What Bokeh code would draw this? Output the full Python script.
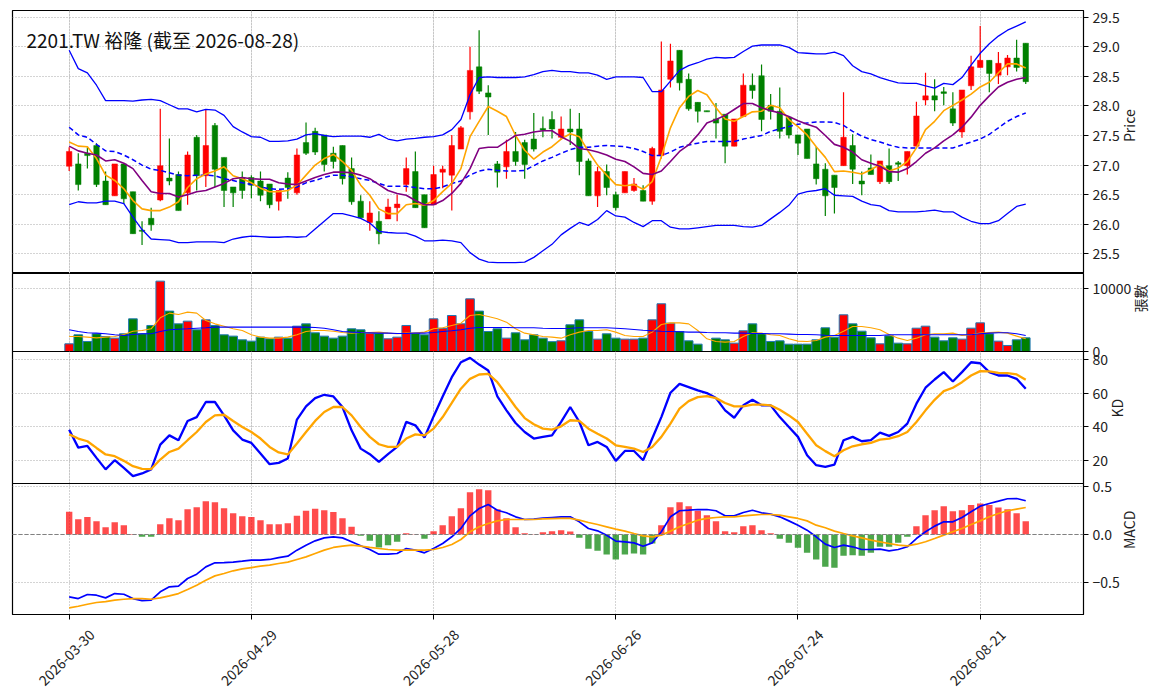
import math
import pandas as pd
from bokeh.plotting import figure
from bokeh.layouts import column
from bokeh.models import ColumnDataSource, Range1d, FixedTicker, Grid, Label, Span
from bokeh.core.properties import value
from bokeh.embed import file_html
from bokeh.resources import INLINE

# ---------------- data ----------------
holidays = ["2026-04-03", "2026-04-06", "2026-05-01", "2026-06-19"]
dates = [d.strftime("%Y-%m-%d") for d in pd.bdate_range("2026-03-30", "2026-08-28")
         if d.strftime("%Y-%m-%d") not in holidays]

open_ = [26.98, 27.02, 27.20, 27.33, 26.73, 26.48, 27.02, 26.55, 25.90, 26.10,
         26.41, 26.78, 26.84, 26.53, 27.47, 26.82, 27.67, 27.13, 26.63, 26.79,
         26.79, 26.73, 26.68, 26.39, 26.78, 26.53, 27.38, 27.57, 27.51, 27.20,
         27.33, 26.94, 26.39, 26.03, 26.05, 26.09, 26.28, 26.67, 26.89, 26.50,
         26.33, 26.88, 26.83, 27.27, 27.90, 28.66, 28.22, 27.02, 26.97, 27.23,
         27.38, 27.44, 27.62, 27.77, 27.47, 27.61, 27.61, 27.07, 26.48, 26.89,
         26.50, 26.53, 26.57, 26.57, 26.39, 27.16, 28.45, 28.94, 28.45, 28.06,
         27.92, 27.78, 27.86, 27.32, 27.82, 28.35, 28.51, 28.01, 27.91, 27.81,
         27.51, 27.61, 27.02, 26.93, 26.83, 26.99, 27.33, 26.73, 26.95, 26.72,
         26.99, 27.03, 26.99, 27.32, 28.10, 28.17, 28.23, 27.95, 27.56, 28.34,
         28.65, 28.77, 28.52, 28.66, 28.81, 29.06]
close = [27.23, 26.67, 27.16, 26.67, 26.33, 27.02, 26.43, 25.84, 25.88, 25.99,
         26.99, 26.73, 26.23, 27.17, 26.82, 27.33, 26.93, 26.57, 26.53, 26.57,
         26.66, 26.49, 26.33, 26.57, 26.62, 27.17, 27.20, 27.22, 27.01, 27.06,
         26.77, 26.38, 26.11, 26.19, 25.84, 26.29, 26.34, 26.94, 26.28, 25.94,
         26.84, 26.93, 27.33, 27.63, 28.60, 28.25, 28.15, 26.88, 27.23, 27.06,
         27.01, 27.27, 27.59, 27.61, 27.61, 27.56, 27.06, 26.48, 26.89, 26.62,
         26.28, 26.89, 26.68, 26.39, 27.28, 28.27, 28.76, 28.39, 27.95, 27.91,
         27.90, 27.71, 27.32, 27.78, 28.35, 28.26, 27.77, 27.91, 27.57, 27.51,
         27.37, 27.11, 26.77, 26.48, 26.62, 27.47, 26.93, 26.68, 26.84, 27.07,
         26.72, 27.02, 27.23, 27.83, 28.17, 28.10, 28.22, 27.71, 28.27, 28.66,
         28.77, 28.55, 28.72, 28.81, 28.65, 28.41]
high = [27.30, 27.20, 27.30, 27.37, 26.89, 27.02, 27.02, 26.55, 26.05, 26.28,
        27.95, 27.45, 26.89, 27.23, 27.51, 27.94, 27.71, 27.13, 26.63, 26.89,
        26.83, 26.89, 26.68, 26.57, 26.88, 27.28, 27.72, 27.63, 27.51, 27.31,
        27.33, 27.13, 26.49, 26.39, 26.22, 26.43, 26.50, 27.13, 27.23, 26.50,
        26.99, 26.99, 27.51, 27.66, 29.00, 29.28, 28.35, 27.07, 27.43, 27.56,
        27.43, 27.88, 27.82, 27.91, 27.82, 27.95, 27.88, 27.11, 26.97, 27.01,
        26.55, 26.89, 26.78, 26.66, 27.31, 29.09, 29.05, 28.94, 28.55, 28.06,
        27.92, 28.05, 27.86, 27.78, 28.55, 28.55, 28.70, 28.20, 28.31, 27.81,
        27.51, 27.61, 27.31, 27.03, 26.83, 28.23, 27.52, 26.89, 27.18, 27.07,
        27.28, 27.07, 27.23, 28.07, 28.56, 28.45, 28.32, 28.23, 28.27, 28.85,
        29.35, 28.77, 28.91, 28.86, 29.12, 29.06]
low = [26.90, 26.57, 26.94, 26.63, 26.33, 26.48, 26.34, 25.84, 25.65, 25.89,
       26.39, 26.66, 26.23, 26.33, 26.57, 26.63, 26.63, 26.29, 26.29, 26.43,
       26.44, 26.39, 26.27, 26.23, 26.43, 26.50, 27.17, 27.17, 26.89, 26.94,
       26.67, 26.33, 26.11, 25.89, 25.66, 26.09, 26.05, 26.55, 26.28, 25.94,
       26.33, 26.61, 26.23, 27.27, 27.77, 28.20, 27.51, 26.62, 26.77, 26.99,
       26.77, 27.23, 27.47, 27.45, 27.43, 27.34, 26.83, 26.48, 26.29, 26.49,
       26.23, 26.53, 26.55, 26.39, 26.33, 27.11, 28.31, 28.26, 27.92, 27.72,
       27.90, 27.45, 27.03, 27.32, 27.82, 28.12, 27.57, 27.77, 27.45, 27.45,
       27.17, 27.11, 26.67, 26.14, 26.18, 26.99, 26.68, 26.49, 26.84, 26.68,
       26.68, 26.73, 26.84, 27.32, 28.01, 27.91, 28.01, 27.66, 27.46, 28.27,
       28.65, 28.23, 28.37, 28.52, 28.58, 28.37]
ma5 = [27.39, 27.32, 27.31, 27.11, 26.83, 26.74, 26.60, 26.40, 26.26, 26.23,
       26.23, 26.29, 26.38, 26.62, 26.77, 26.85, 26.90, 26.97, 26.82, 26.77,
       26.70, 26.61, 26.55, 26.55, 26.57, 26.66, 26.83, 27.00, 27.11, 27.18,
       27.06, 26.91, 26.66, 26.49, 26.26, 26.18, 26.18, 26.33, 26.35, 26.32,
       26.40, 26.55, 26.69, 26.94, 27.48, 27.74, 27.99, 27.91, 27.82, 27.50,
       27.25, 27.10, 27.22, 27.31, 27.44, 27.53, 27.48, 27.23, 27.00, 26.83,
       26.67, 26.65, 26.67, 26.59, 26.72, 27.14, 27.63, 27.97, 28.16, 28.26,
       28.19, 27.97, 27.78, 27.74, 27.82, 27.90, 27.91, 28.01, 27.97, 27.77,
       27.65, 27.51, 27.31, 27.13, 26.89, 26.90, 26.88, 26.85, 26.92, 27.01,
       26.90, 26.95, 27.06, 27.29, 27.60, 27.74, 27.92, 28.01, 28.10, 28.20,
       28.32, 28.40, 28.56, 28.71, 28.71, 28.64]
ma10 = [27.32, 27.24, 27.20, 27.17, 27.07, 27.09, 27.03, 26.94, 26.74, 26.55,
        26.52, 26.52, 26.46, 26.50, 26.55, 26.57, 26.63, 26.69, 26.77, 26.79,
        26.77, 26.76, 26.76, 26.70, 26.68, 26.67, 26.73, 26.79, 26.84, 26.88,
        26.88, 26.87, 26.83, 26.77, 26.67, 26.57, 26.52, 26.49, 26.40, 26.33,
        26.33, 26.40, 26.52, 26.69, 26.94, 27.28, 27.30, 27.30, 27.40, 27.50,
        27.52, 27.56, 27.58, 27.58, 27.48, 27.40, 27.28, 27.26, 27.22, 27.17,
        27.10, 27.06, 26.97, 26.86, 26.84, 26.90, 27.06, 27.23, 27.34, 27.51,
        27.71, 27.77, 27.84, 27.94, 28.04, 28.04, 27.97, 27.92, 27.88, 27.82,
        27.75, 27.69, 27.64, 27.50, 27.35, 27.30, 27.22, 27.09, 27.03, 26.98,
        26.89, 26.88, 26.94, 27.06, 27.20, 27.29, 27.41, 27.51, 27.64, 27.81,
        28.01, 28.17, 28.32, 28.40, 28.45, 28.48]
ma20 = [27.64, 27.51, 27.47, 27.35, 27.24, 27.23, 27.17, 27.09, 27.00, 26.93,
        26.91, 26.87, 26.83, 26.82, 26.83, 26.83, 26.82, 26.77, 26.74, 26.70,
        26.67, 26.63, 26.60, 26.59, 26.60, 26.63, 26.70, 26.74, 26.79, 26.83,
        26.83, 26.80, 26.77, 26.74, 26.69, 26.64, 26.64, 26.64, 26.62, 26.60,
        26.60, 26.63, 26.69, 26.73, 26.83, 26.90, 26.93, 26.91, 26.90, 26.90,
        26.91, 26.99, 27.07, 27.13, 27.20, 27.26, 27.30, 27.30, 27.32, 27.33,
        27.32, 27.31, 27.28, 27.23, 27.16, 27.16, 27.22, 27.30, 27.34, 27.37,
        27.40, 27.40, 27.40, 27.40, 27.44, 27.47, 27.50, 27.57, 27.61, 27.65,
        27.69, 27.71, 27.73, 27.73, 27.72, 27.67, 27.57, 27.49, 27.43, 27.39,
        27.34, 27.30, 27.29, 27.29, 27.29, 27.29, 27.29, 27.29, 27.34, 27.39,
        27.44, 27.52, 27.63, 27.74, 27.82, 27.88]
bb_up = [28.94, 28.63, 28.56, 28.35, 28.09, 28.09, 28.09, 28.08, 28.10, 28.11,
         28.09, 28.02, 27.95, 27.95, 27.90, 27.94, 27.93, 27.84, 27.65, 27.56,
         27.48, 27.47, 27.40, 27.40, 27.41, 27.44, 27.51, 27.53, 27.50, 27.48,
         27.49, 27.49, 27.49, 27.47, 27.52, 27.44, 27.41, 27.44, 27.45, 27.47,
         27.48, 27.51, 27.60, 27.77, 28.19, 28.48, 28.49, 28.48, 28.48, 28.48,
         28.49, 28.53, 28.58, 28.60, 28.58, 28.58, 28.56, 28.56, 28.52, 28.45,
         28.49, 28.49, 28.49, 28.48, 28.24, 28.24, 28.42, 28.60, 28.68, 28.73,
         28.79, 28.82, 28.81, 28.82, 28.92, 29.01, 29.03, 29.03, 29.03, 28.99,
         28.90, 28.89, 28.88, 28.88, 28.91, 28.85, 28.68, 28.58, 28.54, 28.48,
         28.43, 28.39, 28.38, 28.38, 28.34, 28.30, 28.38, 28.36, 28.48, 28.69,
         28.89, 29.05, 29.18, 29.28, 29.35, 29.42]
bb_low = [26.33, 26.38, 26.36, 26.36, 26.39, 26.39, 26.35, 26.12, 25.91, 25.75,
          25.74, 25.73, 25.69, 25.69, 25.70, 25.70, 25.70, 25.69, 25.75, 25.78,
          25.80, 25.79, 25.78, 25.78, 25.79, 25.78, 25.79, 25.92, 26.05, 26.18,
          26.18, 26.14, 26.10, 26.02, 25.88, 25.86, 25.85, 25.85, 25.80, 25.72,
          25.72, 25.73, 25.72, 25.69, 25.52, 25.41, 25.36, 25.35, 25.35, 25.35,
          25.36, 25.44, 25.55, 25.66, 25.82, 25.93, 26.03, 25.98, 26.08, 26.23,
          26.14, 26.12, 26.03, 25.96, 26.06, 26.06, 25.95, 25.92, 25.92, 25.94,
          25.96, 25.98, 25.98, 25.98, 25.96, 25.95, 25.98, 26.09, 26.20, 26.32,
          26.51, 26.55, 26.57, 26.60, 26.49, 26.48, 26.47, 26.39, 26.33, 26.31,
          26.23, 26.21, 26.21, 26.21, 26.22, 26.24, 26.21, 26.21, 26.12, 26.05,
          26.01, 26.01, 26.06, 26.18, 26.30, 26.34]
volume = [1223, 2660, 1600, 2820, 2390, 2130, 2820, 5210, 2820, 4150,
          11220, 6440, 4410, 4840, 3460, 5050, 4150, 2660, 2450, 1860,
          1650, 2290, 2020, 2290, 2130, 4040, 4410, 2980, 2450, 2130,
          2450, 3620, 3460, 2930, 2930, 2020, 2290, 4150, 2930, 2660,
          5210, 3700, 5740, 4410, 8400, 6440, 3190, 3620, 2130, 2980,
          1860, 2660, 2130, 1570, 1700, 4260, 5050, 3190, 1970, 2820,
          2130, 1970, 1970, 2130, 5050, 7610, 4520, 3190, 1700, 1170,
          0, 2130, 1860, 1330, 3300, 4410, 2820, 1600, 1700, 1170,
          1170, 1170, 1860, 3780, 2290, 5850, 4410, 3240, 2180, 1220,
          2500, 1330, 1220, 3720, 4040, 2290, 1700, 2180, 1970, 3720,
          4570, 2820, 1650, 960, 1860, 2180]
vol_ma5 = [2390, 2390, 2290, 2180, 2290, 2390, 2710, 3240, 3350, 3620,
           5370, 6120, 5900, 6280, 6120, 4950, 4410, 4040, 3620, 3350,
           2660, 2290, 2130, 2130, 2290, 2660, 3190, 3350, 3350, 3240,
           3030, 2930, 3030, 3030, 3090, 2930, 2820, 2930, 2930, 3090,
           3620, 3780, 4150, 4520, 5740, 5900, 5590, 5210, 4680, 3620,
           2930, 2660, 2390, 2290, 2130, 2660, 3090, 3350, 3350, 3460,
           3090, 2550, 2390, 2390, 3090, 4310, 4570, 4570, 4410, 3350,
           2020, 1600, 1490, 1600, 2390, 2980, 2930, 2660, 2550, 2020,
           1650, 1600, 1760, 2290, 2550, 3240, 3990, 3990, 3780, 3460,
           2710, 2130, 1760, 2130, 2660, 2820, 2820, 2930, 2550, 2660,
           2930, 3030, 3090, 2930, 2450, 2020]
vol_ma20 = [3460, 3190, 2980, 2930, 2820, 2660, 2550, 2710, 2820, 2820,
            3190, 3460, 3560, 3620, 3720, 3780, 3880, 3880, 3880, 3880,
            3880, 3880, 3880, 3880, 3880, 3880, 3880, 3830, 3720, 3460,
            3190, 3090, 3030, 2980, 2930, 2930, 2870, 2870, 2930, 2930,
            3030, 3190, 3300, 3460, 3720, 3830, 3830, 3830, 3830, 3780,
            3780, 3780, 3720, 3670, 3670, 3720, 3780, 3780, 3780, 3780,
            3720, 3620, 3510, 3400, 3300, 3240, 3190, 3140, 3090, 3090,
            3030, 2980, 2980, 2930, 2930, 2870, 2870, 2820, 2820, 2770,
            2710, 2710, 2660, 2600, 2550, 2550, 2550, 2550, 2550, 2550,
            2660, 2660, 2660, 2660, 2660, 2660, 2660, 2660, 2660, 2660,
            2820, 2930, 2980, 2980, 2820, 2550]
k_line = [38.4, 27.7, 28.7, 21.6, 14.7, 20.2, 15.6, 10.7, 12.3, 14.7,
          29.5, 35.0, 32.1, 43.6, 45.9, 54.9, 54.9, 46.9, 38.0, 32.5,
          30.5, 24.2, 17.8, 18.6, 21.2, 44.4, 52.3, 57.2, 59.2, 58.2,
          51.9, 38.0, 27.1, 23.8, 19.2, 23.8, 28.1, 43.0, 41.0, 33.7,
          46.3, 58.2, 69.7, 78.6, 81.2, 77.2, 73.7, 58.2, 49.9, 42.4,
          37.0, 33.1, 34.1, 35.0, 43.0, 51.9, 43.0, 29.1, 31.1, 28.1,
          19.8, 25.7, 25.7, 20.2, 33.1, 45.9, 60.4, 65.7, 63.8, 61.8,
          60.2, 57.2, 49.9, 45.5, 52.9, 56.2, 52.9, 52.9, 45.9, 40.0,
          34.1, 23.2, 17.2, 16.2, 17.6, 32.1, 34.1, 31.5, 32.1, 36.6,
          34.7, 37.0, 42.0, 53.9, 63.4, 68.3, 72.7, 67.1, 72.7, 78.6,
          78.0, 72.7, 70.7, 70.7, 68.7, 62.8]
d_line = [35.6, 33.1, 31.5, 27.5, 23.6, 22.6, 19.8, 16.6, 15.0, 14.9,
          20.6, 25.1, 27.1, 32.1, 37.0, 43.0, 46.9, 47.3, 43.6, 40.0,
          37.0, 33.1, 28.1, 24.8, 23.6, 30.1, 37.0, 43.6, 48.9, 51.9,
          51.9, 46.9, 40.0, 34.1, 29.7, 28.1, 28.1, 33.1, 35.6, 35.0,
          39.0, 45.9, 54.3, 62.8, 68.7, 71.3, 71.7, 66.7, 59.4, 51.9,
          45.3, 41.6, 39.0, 38.4, 40.4, 44.0, 43.6, 39.0, 36.0, 33.1,
          29.1, 28.1, 27.1, 25.1, 28.1, 34.1, 42.0, 50.9, 55.4, 57.8,
          58.4, 57.2, 54.3, 52.3, 52.3, 53.3, 53.3, 52.9, 50.3, 46.9,
          43.0, 36.0, 29.1, 25.6, 22.6, 26.1, 28.5, 29.7, 30.5, 32.5,
          33.1, 34.5, 37.0, 43.0, 49.9, 56.2, 61.4, 63.4, 66.7, 70.7,
          73.3, 73.1, 72.3, 72.1, 71.3, 68.1]
dif = [-0.649, -0.667, -0.625, -0.632, -0.660, -0.615, -0.622, -0.667, -0.688, -0.684,
       -0.597, -0.545, -0.538, -0.458, -0.413, -0.337, -0.295, -0.292, -0.288, -0.278,
       -0.267, -0.267, -0.260, -0.240, -0.226, -0.163, -0.111, -0.066, -0.035, -0.024,
       -0.035, -0.076, -0.118, -0.156, -0.205, -0.205, -0.198, -0.146, -0.163, -0.191,
       -0.146, -0.094, -0.024, 0.063, 0.194, 0.271, 0.312, 0.253, 0.226, 0.184,
       0.156, 0.160, 0.170, 0.177, 0.184, 0.184, 0.132, 0.063, 0.038, -0.007,
       -0.069, -0.076, -0.087, -0.122, -0.087, 0.028, 0.184, 0.247, 0.253, 0.260,
       0.260, 0.247, 0.194, 0.194, 0.229, 0.253, 0.226, 0.212, 0.184, 0.142,
       0.097, 0.045, -0.024, -0.100, -0.135, -0.111, -0.128, -0.156, -0.156, -0.153,
       -0.170, -0.156, -0.128, -0.042, 0.028, 0.087, 0.132, 0.132, 0.177, 0.236,
       0.295, 0.323, 0.347, 0.372, 0.375, 0.351]
dea = [-0.764, -0.747, -0.726, -0.708, -0.698, -0.684, -0.674, -0.667, -0.667, -0.674,
       -0.660, -0.639, -0.615, -0.573, -0.528, -0.476, -0.431, -0.406, -0.378, -0.358,
       -0.344, -0.330, -0.319, -0.302, -0.287, -0.260, -0.233, -0.198, -0.163, -0.135,
       -0.122, -0.111, -0.122, -0.135, -0.146, -0.156, -0.163, -0.163, -0.163, -0.163,
       -0.156, -0.135, -0.104, -0.052, 0.028, 0.080, 0.115, 0.142, 0.156, 0.156,
       0.156, 0.156, 0.163, 0.165, 0.167, 0.167, 0.149, 0.125, 0.104, 0.080,
       0.056, 0.035, 0.010, -0.014, -0.024, -0.007, 0.035, 0.080, 0.115, 0.149,
       0.167, 0.177, 0.184, 0.184, 0.194, 0.201, 0.208, 0.208, 0.201, 0.184,
       0.167, 0.142, 0.097, 0.070, 0.035, 0.010, -0.014, -0.035, -0.059, -0.076,
       -0.094, -0.111, -0.118, -0.101, -0.076, -0.042, -0.007, 0.028, 0.063, 0.104,
       0.142, 0.184, 0.219, 0.247, 0.264, 0.281]
osc = [0.236, 0.160, 0.181, 0.139, 0.076, 0.128, 0.097, 0.004, -0.024, -0.024,
       0.108, 0.170, 0.149, 0.264, 0.285, 0.347, 0.337, 0.274, 0.222, 0.191,
       0.181, 0.149, 0.108, 0.108, 0.118, 0.194, 0.247, 0.267, 0.253, 0.233,
       0.170, 0.080, -0.014, -0.066, -0.135, -0.111, -0.076, 0.014, 0.002, -0.045,
       0.035, 0.097, 0.191, 0.274, 0.441, 0.472, 0.462, 0.264, 0.170, 0.076,
       0.014, 0.003, 0.024, 0.033, 0.045, 0.031, -0.035, -0.149, -0.170, -0.208,
       -0.260, -0.208, -0.198, -0.208, -0.094, 0.097, 0.285, 0.337, 0.295, 0.247,
       0.201, 0.139, 0.035, 0.024, 0.087, 0.097, 0.045, 0.014, -0.045, -0.087,
       -0.139, -0.191, -0.260, -0.337, -0.347, -0.222, -0.215, -0.222, -0.191, -0.128,
       -0.128, -0.087, -0.024, 0.087, 0.201, 0.253, 0.295, 0.243, 0.253, 0.306,
       0.323, 0.306, 0.281, 0.264, 0.222, 0.139]

title_text = "2201.TW 裕隆 (截至 2026-08-28)"
price_ticks = [25.5, 26.0, 26.5, 27.0, 27.5, 28.0, 28.5, 29.0, 29.5]
vol_ticks = [0, 10000]
kd_ticks = [20, 40, 60, 80]
macd_ticks = [-0.5, 0.0, 0.5]
date_tick_step = 20

# ---------------- styling ----------------
N = len(close)
xs = list(range(N))
FONT = "Noto Sans CJK TC"
UP, DOWN = "#ff0000", "#008000"
x_ticks = xs[::date_tick_step]
XR = Range1d(-6.22, 111.34)
FW = 1071
B = 10  # overlap border between stacked panels

cols = [UP if c >= o else DOWN for o, c in zip(open_, close)]
src = ColumnDataSource(dict(
    x=xs, o=open_, h=high, l=low, c=close,
    top=[max(o, c) if abs(c - o) > 0.012 else max(o, c) + 0.008 for o, c in zip(open_, close)],
    bot=[min(o, c) if abs(c - o) > 0.012 else min(o, c) - 0.008 for o, c in zip(open_, close)],
    col=cols, vol=volume, vma5=vol_ma5, vma20=vol_ma20,
    ma5=ma5, ma10=ma10, ma20=ma20, up=bb_up, lo=bb_low,
    k=k_line, d=d_line, dif=dif, dea=dea, osc=osc,
    ocol=["#ff0000" if v >= 0 else "#008000" for v in osc],
))


def make(h, yr, ticks, labels, axis_label, top=0, bottom=0, margin=(0, 0, 0, 0),
         xaxis=False, transparent=False):
    p = figure(frame_width=FW, frame_height=h, x_range=XR, y_range=yr,
               output_backend="svg", toolbar_location=None,
               y_axis_location="right", x_axis_location="below" if xaxis else None,
               min_border_left=12, min_border_right=4, min_border_top=top,
               min_border_bottom=bottom, margin=margin)
    if transparent:
        p.border_fill_alpha = 0
    p.outline_line_color = "black"
    p.outline_line_width = 1.2
    p.outline_line_alpha = 1.0
    ya = p.yaxis[0]
    ya.ticker = FixedTicker(ticks=ticks)
    ya.major_label_overrides = {t: s for t, s in zip(ticks, labels)}
    ya.major_tick_out = 5
    ya.major_tick_in = 0
    ya.minor_tick_line_color = None
    ya.axis_line_color = "black"
    ya.major_tick_line_color = "black"
    ya.major_label_text_font = FONT
    ya.major_label_text_font_size = "14px"
    ya.major_label_text_color = "#222222"
    ya.major_label_standoff = 4
    ya.axis_label = axis_label
    ya.axis_label_orientation = math.pi / 2
    ya.axis_label_text_font = FONT
    ya.axis_label_text_font_size = "14px"
    ya.axis_label_text_font_style = "normal"
    ya.axis_label_text_color = "#222222"
    ya.axis_label_standoff = 6
    p.ygrid.ticker = FixedTicker(ticks=ticks)
    p.ygrid.grid_line_color = "#a8a8a8"
    p.ygrid.grid_line_dash = "1 2"
    p.ygrid.grid_line_width = 1
    if xaxis:
        xa = p.xaxis[0]
        xa.ticker = FixedTicker(ticks=x_ticks)
        xa.major_label_overrides = {t: "" for t in x_ticks}
        xa.major_label_text_font_size = "1px"
        xa.major_tick_out = 5
        xa.major_tick_in = 0
        xa.minor_tick_line_color = None
        xa.axis_line_color = "black"
        p.xgrid.ticker = FixedTicker(ticks=x_ticks)
        p.xgrid.grid_line_color = "#a8a8a8"
        p.xgrid.grid_line_dash = "1 2"
    else:
        g = Grid(dimension=0, ticker=FixedTicker(ticks=x_ticks),
                 grid_line_color="#a8a8a8", grid_line_dash="1 2")
        p.add_layout(g)
    return p


# price panel
p1 = make(263, Range1d(25.167, 29.613), price_ticks, [f"{t:.1f}" for t in price_ticks],
          "Price", top=10)
p1.segment(x0="x", y0="l", x1="x", y1="h", color="col", line_width=1.2, source=src)
p1.vbar(x="x", width=0.6, top="top", bottom="bot", fill_color="col", line_color="col",
        line_width=0.5, source=src)
p1.line("x", "up", color="#0000ff", line_width=1.3, source=src)
p1.line("x", "lo", color="#0000ff", line_width=1.3, source=src)
p1.line("x", "ma20", color="#0000ff", line_width=1.5, line_dash="5 3", source=src)
p1.line("x", "ma5", color="#ffa500", line_width=1.6, source=src)
p1.line("x", "ma10", color="#800080", line_width=1.6, source=src)
p1.add_layout(Label(x=-4.68, y=29.13, text=title_text, text_font=FONT,
                    text_font_size="19px", text_color="#111111",
                    text_baseline="alphabetic", text_align="left"))

# volume panel
p2 = make(78, Range1d(0, 12440), vol_ticks, ["0", "10000"], "張數", bottom=B)
p2.vbar(x="x", width=0.95, top="vol", bottom=0, fill_color="col", line_color="#1f77b4",
        line_width=1, source=src)
p2.line("x", "vma5", color="#ffa500", line_width=1.1, source=src)
p2.line("x", "vma20", color="#0000ff", line_width=1.1, source=src)

# KD panel
p3 = make(132, Range1d(6.3, 85.0), kd_ticks, [str(t) for t in kd_ticks], "KD",
          top=B, bottom=B, margin=(-2 * B, 0, 0, 0), transparent=True)
p3.line("x", "k", color="#0000ff", line_width=2.3, source=src)
p3.line("x", "d", color="#ffa500", line_width=2.3, source=src)

# MACD panel
BB = 30
p4 = make(131, Range1d(-0.833, 0.531), macd_ticks, ["\u22120.5", "0.0", "0.5"], "MACD",
          top=B, bottom=BB, margin=(-2 * B, 0, 0, 0), xaxis=True, transparent=True)
p4.vbar(x="x", width=0.7, top="osc", bottom=0, fill_color="ocol", fill_alpha=0.7,
        line_color=None, source=src)
p4.add_layout(Span(location=0, dimension="width", line_color="#808080",
                   line_dash="4 2", line_width=1))
p4.line("x", "dif", color="#0000ff", line_width=1.7, source=src)
p4.line("x", "dea", color="#ffa500", line_width=1.7, source=src)

# date tick labels (rotated, centred under each tick)
LH = 78
p5 = figure(frame_width=FW, frame_height=LH, x_range=XR, y_range=Range1d(0, 1),
            output_backend="svg", toolbar_location=None, x_axis_location=None,
            y_axis_location=None, min_border_left=12, min_border_right=4,
            min_border_top=0, min_border_bottom=0, margin=(-(BB - 4), 0, 0, 0))
p5.outline_line_color = None
p5.background_fill_alpha = 0
p5.border_fill_alpha = 0
p5.xgrid.visible = False
p5.ygrid.visible = False
lab_src = ColumnDataSource(dict(x=[t - 0.3 for t in x_ticks],
                                y=[1 - 39 / LH] * len(x_ticks),
                                text=[dates[t] for t in x_ticks]))
p5.text(x="x", y="y", text="text", angle=math.pi / 4, source=lab_src,
        text_font=value(FONT), text_font_size=value("14px"), text_color="#222222",
        text_align="center", text_baseline="middle")

layout = column(p1, p2, p3, p4, p5, spacing=0)
open("out.html", "w").write(file_html(layout, INLINE))
